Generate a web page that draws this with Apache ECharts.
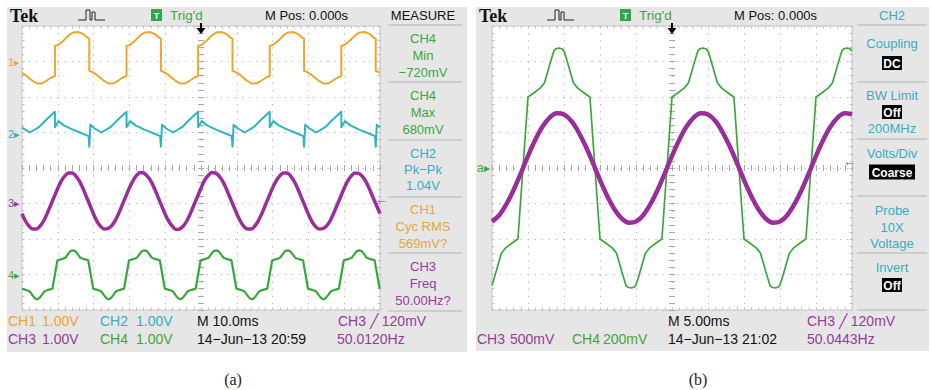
<!DOCTYPE html>
<html><head><meta charset="utf-8">
<script src="https://cdn.jsdelivr.net/npm/echarts/dist/echarts.min.js"></script>
<style>html,body{margin:0;padding:0;background:#fff;}#c{width:931px;height:390px;}</style>
</head><body><div id="c"></div>
<script>
// ---------- DATA (divisions vs time in ms relative to trigger) ----------
// Panel (a): 10 ms/div, 1 V/div
const ch1a = [[-50,2.68],[-48.8,2.60],[-47.3,2.47],[-45.8,2.38],[-44.6,2.38],[-43.3,2.45],[-41.8,2.55],
[-40.8,2.59],[-40.8,3.44],[-39.8,3.47],[-38.3,3.60],[-36.8,3.75],[-35.6,3.82],[-34.3,3.83],[-33.0,3.78],[-31.8,3.68],[-31.2,3.64],[-31.2,2.74],[-30.3,2.70],[-28.8,2.60],[-27.3,2.47],[-25.8,2.38],[-24.6,2.38],[-23.3,2.45],[-21.8,2.55],
[-20.8,2.59],[-20.8,3.44],[-19.8,3.47],[-18.3,3.60],[-16.8,3.75],[-15.6,3.82],[-14.3,3.83],[-13.0,3.78],[-11.8,3.68],[-11.2,3.64],[-11.2,2.74],[-10.3,2.70],[-8.8,2.60],[-7.3,2.47],[-5.8,2.38],[-4.6,2.38],[-3.3,2.45],[-1.8,2.55],
[-0.8,2.59],[-0.8,3.44],[0.2,3.47],[1.7,3.60],[3.2,3.75],[4.4,3.82],[5.7,3.83],[7.0,3.78],[8.2,3.68],[8.8,3.64],[8.8,2.74],[9.7,2.70],[11.2,2.60],[12.7,2.47],[14.2,2.38],[15.4,2.38],[16.7,2.45],[18.2,2.55],
[19.2,2.59],[19.2,3.44],[20.2,3.47],[21.7,3.60],[23.2,3.75],[24.4,3.82],[25.7,3.83],[27.0,3.78],[28.2,3.68],[28.8,3.64],[28.8,2.74],[29.7,2.70],[31.2,2.60],[32.7,2.47],[34.2,2.38],[35.4,2.38],[36.7,2.45],[38.2,2.55],
[39.2,2.59],[39.2,3.44],[40.2,3.47],[41.7,3.60],[43.2,3.75],[44.4,3.82],[45.7,3.83],[47.0,3.78],[48.2,3.68],[48.8,3.64],[48.8,2.74],[49.7,2.70],[50,2.69]];

const ch2a = [[-50,1.14],[-47.8,1.00],[-45.3,1.15],[-43.3,1.35],[-41.2,1.55],
[-40.8,1.58],[-40.8,1.15],[-39.8,1.32],[-38.3,1.20],[-35.8,1.08],[-33.3,0.98],[-31.4,0.90],[-31.2,0.60],[-30.9,1.22],[-29.8,1.12],[-27.8,1.00],[-25.3,1.15],[-23.3,1.35],[-21.2,1.55],
[-20.8,1.58],[-20.8,1.15],[-19.8,1.32],[-18.3,1.20],[-15.8,1.08],[-13.3,0.98],[-11.4,0.90],[-11.2,0.60],[-10.9,1.22],[-9.8,1.12],[-7.8,1.00],[-5.3,1.15],[-3.3,1.35],[-1.2,1.55],
[-0.8,1.58],[-0.8,1.15],[0.2,1.32],[1.7,1.20],[4.2,1.08],[6.7,0.98],[8.6,0.90],[8.8,0.60],[9.1,1.22],[10.2,1.12],[12.2,1.00],[14.7,1.15],[16.7,1.35],[18.8,1.55],
[19.2,1.58],[19.2,1.15],[20.2,1.32],[21.7,1.20],[24.2,1.08],[26.7,0.98],[28.6,0.90],[28.8,0.60],[29.1,1.22],[30.2,1.12],[32.2,1.00],[34.7,1.15],[36.7,1.35],[38.8,1.55],
[39.2,1.58],[39.2,1.15],[40.2,1.32],[41.7,1.20],[44.2,1.08],[46.7,0.98],[48.6,0.90],[48.8,0.60],[49.1,1.22],[50,1.14]];

// sampled every 1 ms from -50 ms
const ch3a = [-1.29,-1.50,-1.64,-1.72,-1.72,-1.64,-1.50,-1.29,-1.05,-0.81,-0.57,-0.36,-0.22,-0.14,-0.14,-0.22,-0.36,-0.57,-0.81,-1.05,
-1.30,-1.51,-1.65,-1.72,-1.71,-1.63,-1.49,-1.28,-1.04,-0.80,-0.56,-0.36,-0.21,-0.13,-0.14,-0.23,-0.37,-0.58,-0.82,-1.06,
-1.30,-1.50,-1.64,-1.73,-1.72,-1.64,-1.50,-1.29,-1.05,-0.81,-0.57,-0.35,-0.21,-0.13,-0.14,-0.22,-0.36,-0.57,-0.81,-1.05,
-1.29,-1.50,-1.65,-1.72,-1.72,-1.64,-1.49,-1.28,-1.04,-0.80,-0.56,-0.36,-0.22,-0.14,-0.14,-0.22,-0.37,-0.58,-0.82,-1.06,
-1.30,-1.51,-1.65,-1.72,-1.71,-1.64,-1.50,-1.29,-1.05,-0.81,-0.57,-0.36,-0.22,-0.14,-0.15,-0.23,-0.37,-0.58,-0.82,-1.05,
-1.28];
const ch3aStart = -50, ch3aStep = 1;

const ch4a = [[-50,-3.40],[-49.4,-3.42],[-48.4,-3.45],[-47.8,-3.48],[-47.1,-3.58],[-46.5,-3.66],[-45.8,-3.70],[-45.1,-3.66],[-44.5,-3.58],[-43.8,-3.48],[-43.2,-3.45],[-42.2,-3.42],[-41.5,-3.40],
[-40.8,-3.00],[-40.1,-2.60],[-39.4,-2.58],[-38.4,-2.55],[-37.8,-2.52],[-37.1,-2.42],[-36.5,-2.34],[-35.8,-2.32],[-35.1,-2.34],[-34.5,-2.42],[-33.8,-2.52],[-33.2,-2.55],[-32.2,-2.58],[-31.5,-2.60],
[-30.8,-3.00],[-30.1,-3.40],[-29.4,-3.42],[-28.4,-3.45],[-27.8,-3.48],[-27.1,-3.58],[-26.5,-3.66],[-25.8,-3.70],[-25.1,-3.66],[-24.5,-3.58],[-23.8,-3.48],[-23.2,-3.45],[-22.2,-3.42],[-21.5,-3.40],
[-20.8,-3.00],[-20.1,-2.60],[-19.4,-2.58],[-18.4,-2.55],[-17.8,-2.52],[-17.1,-2.42],[-16.5,-2.34],[-15.8,-2.32],[-15.1,-2.34],[-14.5,-2.42],[-13.8,-2.52],[-13.2,-2.55],[-12.2,-2.58],[-11.5,-2.60],
[-10.8,-3.00],[-10.1,-3.40],[-9.4,-3.42],[-8.4,-3.45],[-7.8,-3.48],[-7.1,-3.58],[-6.5,-3.66],[-5.8,-3.70],[-5.1,-3.66],[-4.5,-3.58],[-3.8,-3.48],[-3.2,-3.45],[-2.2,-3.42],[-1.5,-3.40],
[-0.8,-3.00],[-0.1,-2.60],[0.6,-2.58],[1.6,-2.55],[2.2,-2.52],[2.9,-2.42],[3.5,-2.34],[4.2,-2.32],[4.9,-2.34],[5.5,-2.42],[6.2,-2.52],[6.8,-2.55],[7.8,-2.58],[8.5,-2.60],
[9.2,-3.00],[9.9,-3.40],[10.6,-3.42],[11.6,-3.45],[12.2,-3.48],[12.9,-3.58],[13.5,-3.66],[14.2,-3.70],[14.9,-3.66],[15.5,-3.58],[16.2,-3.48],[16.8,-3.45],[17.8,-3.42],[18.5,-3.40],
[19.2,-3.00],[19.9,-2.60],[20.6,-2.58],[21.6,-2.55],[22.2,-2.52],[22.9,-2.42],[23.5,-2.34],[24.2,-2.32],[24.9,-2.34],[25.5,-2.42],[26.2,-2.52],[26.8,-2.55],[27.8,-2.58],[28.5,-2.60],
[29.2,-3.00],[29.9,-3.40],[30.6,-3.42],[31.6,-3.45],[32.2,-3.48],[32.9,-3.58],[33.5,-3.66],[34.2,-3.70],[34.9,-3.66],[35.5,-3.58],[36.2,-3.48],[36.8,-3.45],[37.8,-3.42],[38.5,-3.40],
[39.2,-3.00],[39.9,-2.60],[40.6,-2.58],[41.6,-2.55],[42.2,-2.52],[42.9,-2.42],[43.5,-2.34],[44.2,-2.32],[44.9,-2.34],[45.5,-2.42],[46.2,-2.52],[46.8,-2.55],[47.8,-2.58],[48.5,-2.60],
[49.2,-3.00],[49.9,-3.40],[50,-3.40]];

// Panel (b): 5 ms/div, CH3 500 mV/div, CH4 200 mV/div
const ch3b = [-1.51,-1.33,-1.02,-0.62,-0.15,0.34,0.79,1.16,1.42,1.54,1.51,1.33,1.02,0.62,0.15,-0.34,-0.79,-1.16,-1.42,-1.54,
-1.51,-1.33,-1.02,-0.62,-0.15,0.34,0.79,1.16,1.42,1.54,1.51,1.33,1.02,0.62,0.15,-0.34,-0.79,-1.16,-1.42,-1.54,
-1.51,-1.33,-1.02,-0.62,-0.15,0.34,0.79,1.16,1.42,1.54,1.51];
const ch3bStart = -25, ch3bStep = 1;

const ch4b = [[-25,-3.3],[-24.4,-2.9],[-23.7,-2.4],[-23.1,-2.25],[-22.1,-2.1],[-21.4,-2.0],[-20.7,0],[-20.0,2.0],[-19.3,2.1],[-18.3,2.25],[-17.7,2.4],[-17.0,2.9],[-16.4,3.3],[-16.1,3.36],[-15.7,3.38],[-15.3,3.36],[-15.0,3.3],[-14.4,2.9],[-13.7,2.4],[-13.1,2.25],[-12.1,2.1],[-11.4,2.0],
[-10.7,0],[-10.0,-2.0],[-9.3,-2.1],[-8.3,-2.25],[-7.7,-2.4],[-7.0,-2.9],[-6.4,-3.3],[-6.1,-3.36],[-5.7,-3.38],[-5.3,-3.36],[-5.0,-3.3],[-4.4,-2.9],[-3.7,-2.4],[-3.1,-2.25],[-2.1,-2.1],[-1.4,-2.0],
[-0.7,0],[0.0,2.0],[0.7,2.1],[1.7,2.25],[2.3,2.4],[3.0,2.9],[3.6,3.3],[3.9,3.36],[4.3,3.38],[4.7,3.36],[5.0,3.3],[5.6,2.9],[6.3,2.4],[6.9,2.25],[7.9,2.1],[8.6,2.0],
[9.3,0],[10.0,-2.0],[10.7,-2.1],[11.7,-2.25],[12.3,-2.4],[13.0,-2.9],[13.6,-3.3],[13.9,-3.36],[14.3,-3.38],[14.7,-3.36],[15.0,-3.3],[15.6,-2.9],[16.3,-2.4],[16.9,-2.25],[17.9,-2.1],[18.6,-2.0],
[19.3,0],[20.0,2.0],[20.7,2.1],[21.7,2.25],[22.3,2.4],[23.0,2.9],[23.6,3.3],[23.9,3.36],[24.3,3.38],[24.7,3.36],[25,3.3]];

// ---------- STYLE ----------
const C1='#eea52c', C2='#2db4c4', C3='#9a2c9c', C4='#38a83c';
const T1='#e9a43a', T2='#36aebf', T3='#983a9a', T4='#3ea640', TK='#111';
const GRIDC='#b8b8b8', TICKC='#a8a8a8', EDGEC='#c0c0c0';
const SANS='"Liberation Sans", Arial, sans-serif';

function sampled(arr, start, step){ return arr.map((v,i)=>[start+i*step, v]); }

function axBase(g, min, max, iv, pos, center, split){
  return {gridIndex:g, type:'value', min:min, max:max, interval:iv, position:pos,
    axisLine:{show:false, onZero:center}, axisLabel:{show:false},
    axisTick:{show:true, inside:true, length:center?3:2.5, lineStyle:{color:center?TICKC:EDGEC}},
    minorTick:{show:true, splitNumber:5, length:center?3:2.5, lineStyle:{color:center?TICKC:EDGEC}},
    splitLine:{show:split, lineStyle:{color:GRIDC, type:[1.3,5.8], width:1.1}}, z:3};
}
function xAxes(g, min, max, iv){
  return [axBase(g,min,max,iv,'bottom',true,true), axBase(g,min,max,iv,'top',true,false),
          axBase(g,min,max,iv,'bottom',false,false), axBase(g,min,max,iv,'top',false,false)];
}
function yAxes(g){
  return [axBase(g,-4,4,1,'left',true,true), axBase(g,-4,4,1,'right',true,false),
          axBase(g,-4,4,1,'left',false,false), axBase(g,-4,4,1,'right',false,false)];
}

function txt(x,y,s,color,o){
  o=o||{};
  const size=o.size||13, weight=o.weight||'normal', fam=o.fam||SANS, al=o.align||'left';
  return {type:'text', x:x, y:y, z:100, silent:true,
    style:{text:s, fill:color, font:weight+' '+size+'px '+fam, align:al, textAlign:al,
      verticalAlign:'middle', textVerticalAlign:'middle'}};
}
function box(cx,cy,w,h,s){
  return [{type:'rect', z:99, shape:{x:cx-w/2,y:cy-h/2,width:w,height:h}, style:{fill:'#000'}},
          txt(cx,cy+0.5,s,'#fff',{align:'center',size:12,weight:'bold'})];
}
function hline(x1,x2,y){
  return {type:'line', z:98, shape:{x1:x1,y1:y,x2:x2,y2:y}, style:{stroke:'#b4b4b4', lineWidth:1}};
}
function pulse(x0){
  return {type:'polyline', z:98, shape:{points:[[x0,20],[x0+8,20],[x0+8,10],[x0+12,10],[x0+12,20],[x0+14,20],[x0+14,12],[x0+17,12],[x0+17,20],[x0+27,20]]},
    style:{stroke:'#222', lineWidth:1, fill:null}};
}
function trigArrow(x){
  return [{type:'line', z:98, shape:{x1:x,y1:23,x2:x,y2:30}, style:{stroke:'#000', lineWidth:2}},
          {type:'polygon', z:98, shape:{points:[[x-4.5,28],[x+4.5,28],[x,34]]}, style:{fill:'#000'}}];
}

let G = [];
G.push({type:'rect', z:-100, shape:{x:7,y:7,width:460,height:345}, style:{fill:'#e6e6e6'}});
G.push({type:'rect', z:-100, shape:{x:476,y:7,width:453,height:344}, style:{fill:'#e6e6e6'}});
[[0,'MEASURE',TK],[469,'CH2',T2]].forEach(function(p){
  const d=p[0];
  G.push(txt(10+d,16,'Tek','#111',{size:18,weight:'bold',fam:'"Liberation Serif", serif'}));
  G.push(pulse(78+d));
  G.push({type:'rect', z:99, shape:{x:151+d,y:9,width:11,height:12}, style:{fill:'#2ea64a'}});
  G.push(txt(156.5+d,15.5,'T','#fff',{align:'center',size:9,weight:'bold'}));
  G.push(txt(170+d,15,"Trig'd",T4,{size:13.5}));
  G.push(txt(265+d,15,'M Pos: 0.000s',TK,{size:13}));
  G.push(txt(423+d,15,p[1],p[2],{align:'center',size:13}));
});
G = G.concat(trigArrow(201), trigArrow(672));
[25,82,140,197,253,311].forEach(y=>G.push(hline(388,462,y)));
const MX=423;
[['CH4',38,T4],['Min',55,T4],['\u2212720mV',72,T4],
 ['CH4',95,T4],['Max',112,T4],['680mV',129,T4],
 ['CH2',153,T2],['Pk\u2212Pk',169,T2],['1.04V',185,T2],
 ['CH1',209,T1],['Cyc RMS',226,T1],['569mV?',243,T1],
 ['CH3',266,T3],['Freq',283,T3],['50.00Hz?',300,T3]].forEach(a=>G.push(txt(MX,a[1],a[0],a[2],{align:'center',size:13})));
const RX=892;
[25,82,139,196,253,310].forEach(y=>G.push(hline(857,927,y)));
[['Coupling',43],['BW Limit',95],['200MHz',128],['Volts/Div',153],['Probe',210],['10X',227],['Voltage',243],['Invert',267]]
  .forEach(a=>G.push(txt(RX,a[1],a[0],T2,{align:'center',size:13})));
G = G.concat(box(RX,63,20,14,'DC'), box(RX,112,20,14,'Off'), box(RX,172,46,15,'Coarse'), box(RX,285,20,14,'Off'));
G.push(txt(8,62,'1\u25B8',T1,{size:11}));
G.push(txt(8,134,'2\u25B8',T2,{size:11}));
G.push(txt(8,203,'3\u25B8',T3,{size:11}));
G.push(txt(8,275,'4\u25B8',T4,{size:11}));
G.push(txt(477,168,'a\u25B8',T4,{size:12}));
G.push(txt(375,199,'\u2190',T3,{size:13}));
G.push(txt(843,161,'\u2190',T3,{size:13}));
const R1=321, R2=339;
G.push(txt(8,R1,'CH1',T1,{size:14})); G.push(txt(42,R1,'1.00V',T1,{size:14}));
G.push(txt(100,R1,'CH2',T2,{size:14})); G.push(txt(136,R1,'1.00V',T2,{size:14}));
G.push(txt(197,R1,'M 10.0ms',TK,{size:14}));
G.push(txt(338,R1,'CH3 \u2571 120mV',T3,{size:14}));
G.push(txt(8,R2,'CH3',T3,{size:14})); G.push(txt(42,R2,'1.00V',T3,{size:14}));
G.push(txt(100,R2,'CH4',T4,{size:14})); G.push(txt(136,R2,'1.00V',T4,{size:14}));
G.push(txt(197,R2,'14\u2212Jun\u221213 20:59',TK,{size:14}));
G.push(txt(337,R2,'50.0120Hz',T3,{size:14}));
G.push(txt(668,R1,'M 5.00ms',TK,{size:14}));
G.push(txt(807,R1,'CH3 \u2571 120mV',T3,{size:14}));
G.push(txt(477,R2,'CH3',T3,{size:14})); G.push(txt(510,R2,'500mV',T3,{size:14}));
G.push(txt(572,R2,'CH4',T4,{size:14})); G.push(txt(603,R2,'200mV',T4,{size:14}));
G.push(txt(668,R2,'14\u2212Jun\u221213 21:02',TK,{size:14}));
G.push(txt(807,R2,'50.0443Hz',T3,{size:14}));
G.push(txt(233,379,'(a)','#222',{align:'center',size:16,fam:'"Liberation Serif", serif'}));
G.push(txt(698,379,'(b)','#222',{align:'center',size:16,fam:'"Liberation Serif", serif'}));

function line(data, xi, yi, color, w, smooth){
  const s = {type:'line', data:data, xAxisIndex:xi, yAxisIndex:yi, symbol:'none', silent:true,
    smooth:smooth||false, z:5, lineStyle:{color:color, width:w, join:'round'}};
  return s;
}

const chart = echarts.init(document.getElementById('c'), null, {renderer:'svg'});
chart.setOption({
  animation:false,
  backgroundColor:'#fff',
  grid:[
    {left:22, top:26, width:358, height:284, show:true, backgroundColor:'#fff', borderColor:'#c8c8c8', borderWidth:1, z:1},
    {left:492, top:26, width:360, height:284, show:true, backgroundColor:'#fff', borderColor:'#c8c8c8', borderWidth:1, z:1}
  ],
  xAxis: xAxes(0,-50,50,10).concat(xAxes(1,-25,25,5)),
  yAxis: yAxes(0).concat(yAxes(1)),
  graphic:{elements:G},
  series:[
    line(ch1a,0,0,C1,2),
    line(ch2a,0,0,C2,2),
    line(sampled(ch3a,ch3aStart,ch3aStep),0,0,C3,3.5,0.35),
    line(ch4a,0,0,C4,2.2),
    line(ch4b,4,4,C4,1.7),
    line(sampled(ch3b,ch3bStart,ch3bStep),4,4,C3,4.5,0.35)
  ]
});
</script></body></html>
